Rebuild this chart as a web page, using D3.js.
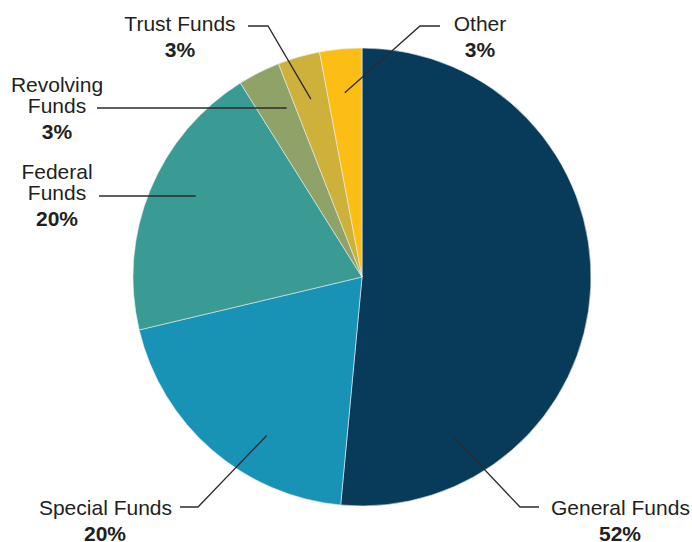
<!DOCTYPE html>
<html>
<head>
<meta charset="utf-8">
<script src="https://cdn.jsdelivr.net/npm/d3@7"></script>
<style>
  html, body { margin: 0; padding: 0; background: #ffffff; }
  svg { display: block; }
  text { font-family: "Liberation Sans", Arial, Helvetica, sans-serif; fill: #231f20; }
</style>
</head>
<body>
<svg id="chart" width="692" height="542"></svg>
<script>
// Fund categories and their share of the total (percent)
const categories = ["General Funds", "Special Funds", "Federal Funds", "Revolving Funds", "Trust Funds", "Other"];
const shares = [52, 20, 20, 3, 3, 3];
const colors = ["#083b5a", "#1892b5", "#3a9b94", "#8fa368", "#ceb13a", "#fcbe14"];

// Label layout: text lines, text anchor point, leader elbow/end, and where along the slice the leader lands
const labelLayout = [
  { lines: ["General Funds"], x: 551, y: 515, anchor: "start", pctX: 620, frac: 0.81, elbow: [520, 507], end: [539, 507] },
  { lines: ["Special Funds"], x: 172, y: 515, anchor: "end", pctX: 105, frac: 0.36, elbow: [198, 507], end: [180, 507] },
  { lines: ["Federal", "Funds"], x: 57, y: 179, anchor: "middle", pctX: 57, frac: 0.54, elbow: null, end: [99, 196], flat: true },
  { lines: ["Revolving", "Funds"], x: 57, y: 92, anchor: "middle", pctX: 57, frac: 0.5, elbow: null, end: [97, 108], flat: true },
  { lines: ["Trust Funds"], x: 180, y: 31, anchor: "middle", pctX: 180, frac: 0.5, elbow: [268, 26], end: [248, 26] },
  { lines: ["Other"], x: 480, y: 31, anchor: "middle", pctX: 480, frac: 0.5, elbow: [420, 26], end: [440, 26] }
];

const cx = 362, cy = 277, radius = 229, leaderR = 185;

const svg = d3.select("#chart");
const g = svg.append("g").attr("transform", `translate(${cx},${cy})`);

const data = categories.map((c, i) => ({ name: c, value: shares[i], color: colors[i], layout: labelLayout[i] }));

const pie = d3.pie().value(d => d.value).sort(null).startAngle(0).endAngle(2 * Math.PI);
const arc = d3.arc().innerRadius(0).outerRadius(radius);
const arcs = pie(data);

g.selectAll("path.slice")
  .data(arcs)
  .join("path")
  .attr("class", "slice")
  .attr("d", arc)
  .attr("fill", d => d.data.color)
  .attr("stroke", "#e8eef0")
  .attr("stroke-width", 0.6);

// Leader lines from inside each slice out to its label
const leaders = svg.append("g")
  .attr("fill", "none")
  .attr("stroke", "#2b2b2b")
  .attr("stroke-width", 1.3);

arcs.forEach(a => {
  const L = a.data.layout;
  const ang = a.startAngle + (a.endAngle - a.startAngle) * L.frac;
  let px = cx + leaderR * Math.sin(ang);
  let py = cy - leaderR * Math.cos(ang);
  const pts = [];
  if (L.flat) {
    // horizontal leader at the label's level, ending on the slice
    py = L.end[1];
    const dy = py - cy;
    const xr = Math.sqrt(Math.max(0, leaderR * leaderR - dy * dy));
    px = cx + (Math.sin(ang) < 0 ? -1 : 1) * xr;
    pts.push([px, py], L.end);
  } else {
    pts.push([px, py], L.elbow, L.end);
  }
  leaders.append("path").attr("d", d3.line()(pts));
});

// Category names and bold percentages
const labels = svg.append("g").style("font-size", "21px");
arcs.forEach(a => {
  const L = a.data.layout;
  const t = labels.append("text")
    .attr("text-anchor", L.anchor);
  L.lines.forEach((ln, i) => {
    t.append("tspan").attr("x", L.x).attr("y", L.y + i * 21).text(ln);
  });
  labels.append("text")
    .attr("x", L.pctX)
    .attr("y", L.y + (L.lines.length - 1) * 21 + 26)
    .attr("text-anchor", "middle")
    .style("font-weight", "bold")
    .text(a.data.value + "%");
});
</script>
</body>
</html>
